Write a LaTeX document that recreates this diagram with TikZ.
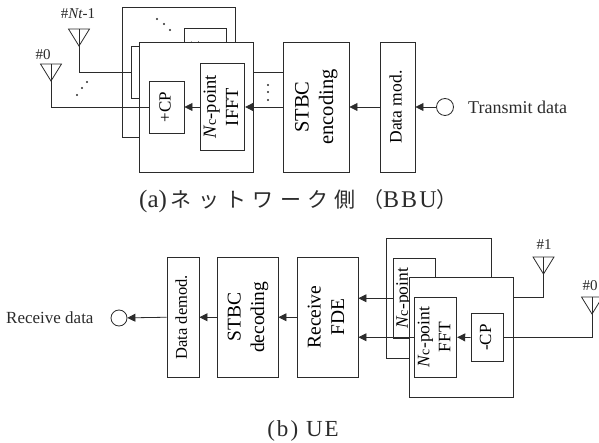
\documentclass[tikz,border=0pt]{standalone}
\usepackage{fontspec}
\setmainfont{Liberation Serif}
\newfontfamily\jpfont[LetterSpace=30]{Noto Sans CJK JP}
\newfontfamily\capfont[LetterSpace=9]{Liberation Serif}
\definecolor{ink}{HTML}{2B2B2B}
\renewcommand{\arraystretch}{1.2}
\newcommand{\sz}[1]{\fontsize{#1}{#1}\selectfont}
% block with rotated text: name, x, y, width, height, font size, text
\newcommand{\sigblock}[7]{%
  \node[blk,minimum width=#4,minimum height=#5,font=\sz{#6}] (#1)
    at ({#2+#4/2},{#3+#5/2}) {\rotatebox{90}{\begin{tabular}{@{}c@{}}#7\end{tabular}}};%
}
% antenna with its foot named
\newcommand{\antenna}[3]{%
  \coordinate (#1) at (#2,#3);%
  \draw[wire] ({#2-10.5},{#3-17}) -- ({#2+10.5},{#3-17}) -- (#1) -- cycle;%
  \draw[wire] (#2,{#3-17}) -- (#1);%
}
\newcommand{\Nc}{\textit{N}{\sz{14}c}}
\usetikzlibrary{arrows.meta}

\begin{document}
\begin{tikzpicture}[x=1pt,y=-1pt,
    blk/.style ={draw=ink,fill=white,line width=0.9pt,inner sep=0pt},
    wire/.style={draw=ink,line width=0.8pt},
    sig/.style ={wire,-{Triangle[length=8pt,width=8pt]}},
    lbl/.style ={text=ink,inner sep=0pt},
    blob/.style={circle,draw=ink,fill=white,line width=0.8pt,inner sep=0pt,minimum size=17pt},
  ]

% fixed bounding box
\path[use as bounding box] (0,0) rectangle (599,443);

% ---- (a) transmit side, chain --------------------------------------------
\sigblock{stbcenc}{283}{42}{66}{130}{20.5}{STBC\\encoding}
\sigblock{datamod}{380}{42}{35}{130}{17.5}{Data mod.}
\node[blob] (txsrc) at (445,107) {};
\node[lbl,anchor=west,font=\sz{18}] (txlbl) at (468,107) {Transmit data};

% ---- (a) rear branch -------------------------------------------------------
\node[blk,minimum width=113.5,minimum height=130] (txrear) at (178.75,72) {};
\sigblock{ifftrear}{186}{28.5}{39}{87}{17.5}{\Nc-point\\IFFT}
\sigblock{cprear}{131.5}{46}{35}{52}{17}{+CP}
\draw[wire] (stbcenc.west |- cprear.west) -- (ifftrear.east);
\draw[wire] (ifftrear.west |- cprear.east) -- (cprear.east);
\foreach \px/\py in {157/19,164/24,170/30}
  \fill[ink] (\px,\py) circle (1.2);

% ---- (a) front branch ------------------------------------------------------
\node[blk,minimum width=114,minimum height=130] (txfront) at (196,107) {};
\sigblock{ifft}{203}{63.5}{39}{87}{18.5}{\Nc-point\\IFFT}
\sigblock{cp}{149}{81}{35}{52}{17}{+CP}
\draw[sig] (stbcenc.west |- ifft.east) -- (ifft.east);
\draw[sig] (ifft.west |- cp.east) -- (cp.east);
\draw[sig] (datamod.west) -- (stbcenc.east);
\draw[sig] (txsrc) -- (datamod.east);
\foreach \py in {85,92,100}
  \fill[ink] (268,\py) circle (1.2);

% ---- (a) antennas ----------------------------------------------------------
\antenna{ant0}{51}{81}
\antenna{antn}{79}{46}
\draw[wire] (ant0) |- (cp.west);
\draw[wire] (antn) |- (cprear.west);
\foreach \px/\py in {77/95,82/88,87/82}
  \fill[ink] (\px,\py) circle (1.2);
\node[lbl,font=\sz{15}] (ant0lbl) at (43,55) {\#0};
\node[lbl,font=\sz{15}] (antnlbl) at (78,14) {\#\textit{Nt}-1};

\node[lbl,anchor=west,font=\sz{25}] (capa) at (139,201)
  {(a)\hspace{4pt}{\jpfont\sz{21}ネットワーク側（}{\capfont\sz{24}BBU}{\jpfont\sz{21}）}};

% ---- (b) receive side, chain -----------------------------------------------
\sigblock{datadem}{167}{257.5}{32}{119.5}{16.5}{Data demod.}
\sigblock{stbcdec}{217.5}{257.5}{60.5}{119.5}{19.5}{STBC\\decoding}
\sigblock{fde}{297.5}{257.5}{60.5}{119.5}{19.5}{Receive\\FDE}
\node[blob,minimum size=16pt] (rxsink) at (119,318) {};
\node[lbl,anchor=west,font=\sz{17}] (rxlbl) at (6,318) {Receive data};

% ---- (b) rear branch -------------------------------------------------------
\node[blk,minimum width=104.5,minimum height=119.5] (rxrear) at (438.75,298.25) {};
\sigblock{fftrear}{394.5}{258.5}{39.5}{79.5}{17.5}{\Nc-point\\FFT}
\draw[sig] (fftrear.west) -- (fde.east |- fftrear.west);

% ---- (b) front branch ------------------------------------------------------
\node[blk,minimum width=104,minimum height=119.5] (rxfront) at (461,337.25) {};
\sigblock{fft}{417}{297.5}{37.5}{79.5}{17.5}{\Nc-point\\FFT}
\sigblock{rmcp}{471}{313.5}{32}{48}{17}{-CP}
\draw[sig] (rmcp.west) -- (fft.east);
\draw[sig] (fft.west) -- (fde.east |- fft.west);
\draw[sig] (fde.west |- stbcdec.east) -- (stbcdec.east);
\draw[sig] (stbcdec.west) -- (datadem.east);
\draw[sig] (datadem.west) -- (rxsink);

% ---- (b) antennas ----------------------------------------------------------
\antenna{rxant1}{543.5}{274}
\antenna{rxant0}{592}{314}
\draw[wire] (rxant1) |- (rxfront.east |- 0,297.5);
\draw[wire] (rxant0) |- (rmcp.east);
\node[lbl,font=\sz{15}] (rxant1lbl) at (544,245) {\#1};
\node[lbl,font=\sz{15}] (rxant0lbl) at (590,286) {\#0};

\node[lbl,font=\capfont\sz{23}] (capb) at (303,431) {(b) UE};

\end{tikzpicture}
\end{document}
